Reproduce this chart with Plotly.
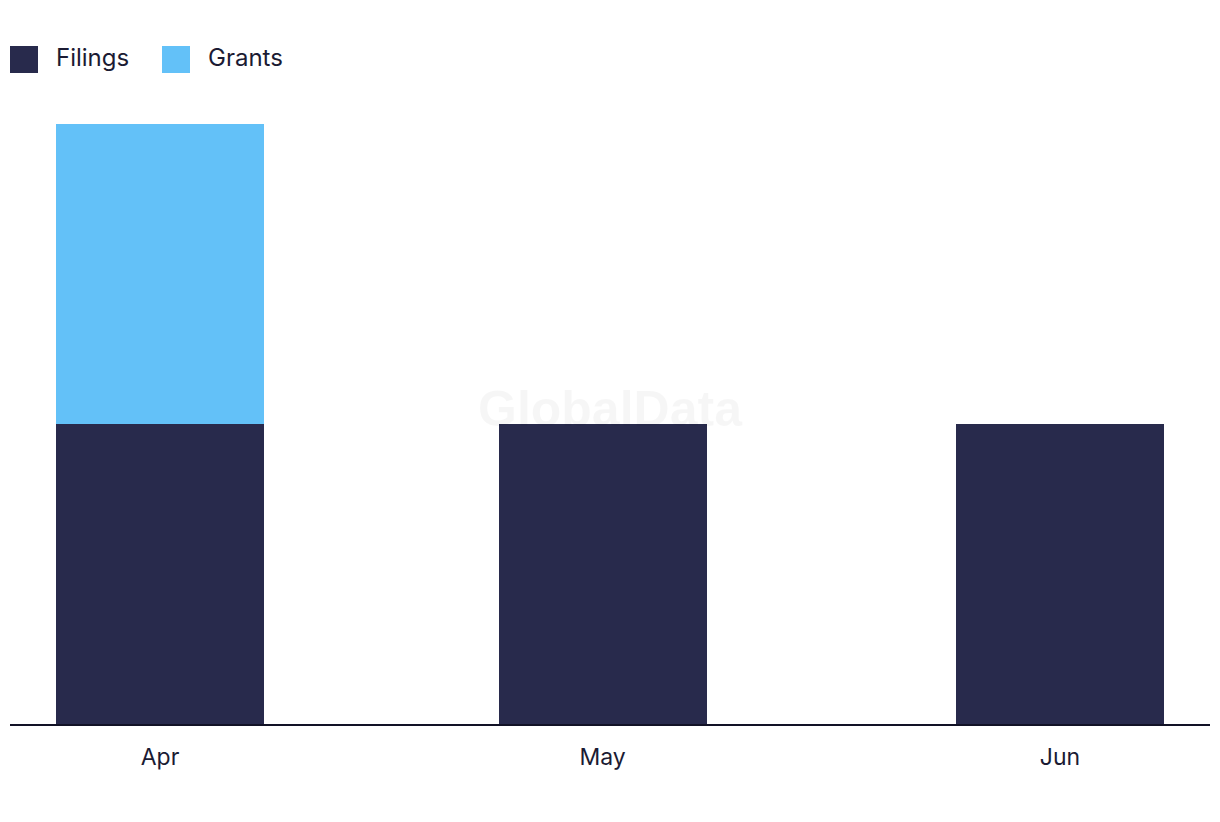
import plotly.graph_objects as go

months = ["2024-04-01", "2024-05-01", "2024-06-01"]
filings = [1, 1, 1]
grants = [1, 0, 0]
series_names = ["Filings", "Grants"]
colors = ["#282a4c", "#63c1f8"]

DAY = 86400000
W, H = 1220, 822
ML, MR, MT, MB = 10, 10, 124, 98
PW, PH = W - ML - MR, H - MT - MB
FONT = "Inter, 'Noto Sans', sans-serif"
TXT = "#1b1b33"

fig = go.Figure()
fig.add_trace(go.Bar(x=months, y=filings, name=series_names[0], marker_color=colors[0],
                     width=14.1 * DAY, marker_line_width=0))
fig.add_trace(go.Bar(x=months, y=grants, name=series_names[1], marker_color=colors[1],
                     width=14.1 * DAY, marker_line_width=0))

def px(x):
    return (x - ML) / PW

def py(y):
    return (H - MB - y) / PH

shapes = []
annotations = []
for (x0, tx), name, col in zip([(10, 54), (162, 206)], series_names, colors):
    shapes.append(dict(type="rect", xref="paper", yref="paper", x0=px(x0), x1=px(x0 + 28),
                       y0=py(73), y1=py(46), fillcolor=col, line_width=0))
    annotations.append(dict(text=name, xref="paper", yref="paper", x=px(tx), y=py(58),
                            xanchor="left", yanchor="middle", showarrow=False,
                            font=dict(family=FONT, size=24, color=TXT)))

annotations.append(dict(text="<b>GlobalData</b>", xref="paper", yref="paper", x=px(610), y=py(409),
                        xanchor="center", yanchor="middle", showarrow=False,
                        font=dict(family="Liberation Sans, Arial, sans-serif", size=50,
                                  color="rgba(0,0,0,0.035)")))

fig.update_layout(
    width=W, height=H, barmode="stack", showlegend=False,
    margin=dict(l=ML, r=MR, t=MT, b=MB),
    plot_bgcolor="white", paper_bgcolor="white",
    shapes=shapes, annotations=annotations,
    xaxis=dict(type="date", range=["2024-03-21 20:00", "2024-06-11 04:00"],
               tickvals=months, tickformat="%b", showgrid=False, zeroline=False,
               showline=True, linecolor="#121226", linewidth=2,
               ticks="outside", ticklen=11, tickcolor="rgba(0,0,0,0)",
               tickfont=dict(family=FONT, size=23, color=TXT)),
    yaxis=dict(range=[0, 2], visible=False, showgrid=False, zeroline=False),
)

fig.write_html("out.html")
